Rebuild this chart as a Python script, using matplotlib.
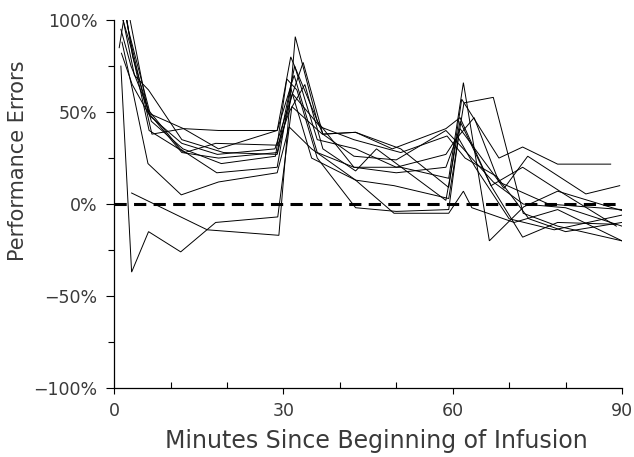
import matplotlib
matplotlib.use("Agg")
import matplotlib.pyplot as plt
from matplotlib.ticker import MultipleLocator, FuncFormatter

plt.rcParams['font.family'] = ['DejaVu Sans']

# Performance error (%) per patient vs minutes since start of infusion
patients = [
    ([1.2, 3.1, 6.1, 11.8, 18, 29, 31.5, 36.9, 42.8, 49.3, 58.8, 61.3, 66.8, 72.4, 78.6, 89],
     [75, -37, -15, -26, -10, -7, 53, 38, 39, 30, 41, 47, 10, -18, -10, -11]),
    ([3.1, 16.5, 29.2, 32.1, 36, 42.5, 50.8, 59.3, 61.9, 66.5, 72.6, 78.6, 90],
     [6, -14, -17, 91, 45, 20, 20, 14, 66, -20, -1.5, 7, -3.6]),
    ([1.4, 3.4, 6.0, 11.9, 18.5, 28.9, 31.0, 35, 42.8, 49.6, 59.3, 61.9, 63.4, 70.9, 78.6, 90],
     [88, 60, 22, 5, 12, 17, 42, 30, 13, -5, -5, 7, -2, -10, -3, -20]),
    ([0.8, 2.5, 6.4, 12.3, 18.5, 28.9, 31.3, 37, 42.8, 50.8, 59.3, 61.6, 68.2, 72.4, 78.6, 88],
     [130, 95, 49, 41, 30, 40, 80, 38, 39, 30, 9, 57, 25, 31, 21.7, 21.7]),
    ([1.0, 2.8, 6.7, 12.3, 18.5, 28.9, 31.9, 36, 42.5, 50, 58.8, 61.3, 69.1, 73.3, 83.6, 89.6],
     [120, 90, 38, 41, 40, 40, 70, 28, 20, 17, 20, 41, 8.5, 26, 5.5, 10]),
    ([1.6, 3.6, 6.1, 12, 19.4, 28.9, 31.5, 33.5, 37, 42.5, 50, 58.8, 61.9, 67.2, 72.5, 80, 90],
     [100, 70, 62, 35, 28, 27, 59, 77, 38, 26, 24, 40, 30, 12, 0, -2, -12]),
    ([1.2, 3.0, 6.1, 11.7, 18.2, 28.9, 31.3, 35, 42.8, 49.6, 59.3, 62, 67.2, 72.5, 78.6, 90],
     [95, 75, 51, 30, 17, 20, 63, 25, 13, 10, 3, 55, 58, -5, -12, -20]),
    ([0.9, 2.2, 6.0, 12, 18.5, 28.9, 32, 36, 42.8, 50, 58.8, 60.5, 63.8, 68.2, 77, 90],
     [85, 110, 50, 28, 25, 28, 75, 35, 30, 20, 27, 35, 47, 12, 0, -3]),
    ([1.3, 3.2, 6.3, 12, 18.3, 28.5, 31.6, 36.5, 42.5, 50.8, 59, 62.2, 67.8, 73.5, 80, 90],
     [82, 65, 48, 33, 27, 30, 60, 42, 35, 28, 37, 25, 15, -8, -15, -10]),
    ([1.1, 3.0, 6.2, 12.5, 18, 29, 31, 33.8, 37, 42.8, 46.5, 58.8, 61.3, 66.8, 72.4, 80, 89],
     [105, 85, 40, 28, 33, 32, 50, 65, 30, 18, 30, 2, 45, 10, 20, 5, -12]),
    ([1.5, 3.3, 6.6, 12.2, 19, 28.6, 30.6, 32.4, 36, 42.8, 50, 59.3, 61, 64, 70, 78, 90],
     [115, 80, 45, 30, 22, 26, 68, 62, 25, -2, -4, -3, 36, 20, -8, -14, -6]),
]

x_min, x_max = 0, 90
y_min, y_max = -100, 100
reference_level = 0
text_color = '#3a3a3a'

fig = plt.figure(figsize=(6.34, 4.57), dpi=100)
ax = fig.add_axes([0.180, 0.151, 0.801, 0.805])

for minutes, errors in patients:
    ax.plot(minutes, errors, color='black', lw=0.7, solid_joinstyle='miter')

ax.plot([x_min, x_max], [reference_level, reference_level], color='black',
        lw=2.2, dashes=(4, 2.4))

ax.set_xlim(x_min, x_max)
ax.set_ylim(y_min, y_max)

for side in ('top', 'right'):
    ax.spines[side].set_visible(False)
for side in ('left', 'bottom'):
    ax.spines[side].set_linewidth(0.9)

ax.xaxis.set_major_locator(MultipleLocator(30))
ax.xaxis.set_minor_locator(MultipleLocator(10))
ax.yaxis.set_major_locator(MultipleLocator(50))
ax.yaxis.set_minor_locator(MultipleLocator(25))
ax.yaxis.set_major_formatter(FuncFormatter(lambda v, p: f"{v:.0f}%".replace('-', '\u2212')))

ax.tick_params(axis='x', which='major', direction='out', length=4, width=0.8,
               pad=6, labelsize=12.5, labelcolor=text_color)
ax.tick_params(axis='x', which='minor', direction='in', length=4, width=0.8)
ax.tick_params(axis='y', which='major', direction='out', length=6, width=0.8,
               pad=6, labelsize=12.5, labelcolor=text_color)
ax.tick_params(axis='y', which='minor', direction='out', length=4, width=0.8)

ax.set_xlabel('Minutes Since Beginning of Infusion', fontsize=17, color=text_color)
ax.set_ylabel('Performance Errors', fontsize=15, color=text_color)
ax.xaxis.set_label_coords(0.516, -0.112)
ax.yaxis.set_label_coords(-0.17, 0.617)

fig.savefig('out.png', dpi=100)
